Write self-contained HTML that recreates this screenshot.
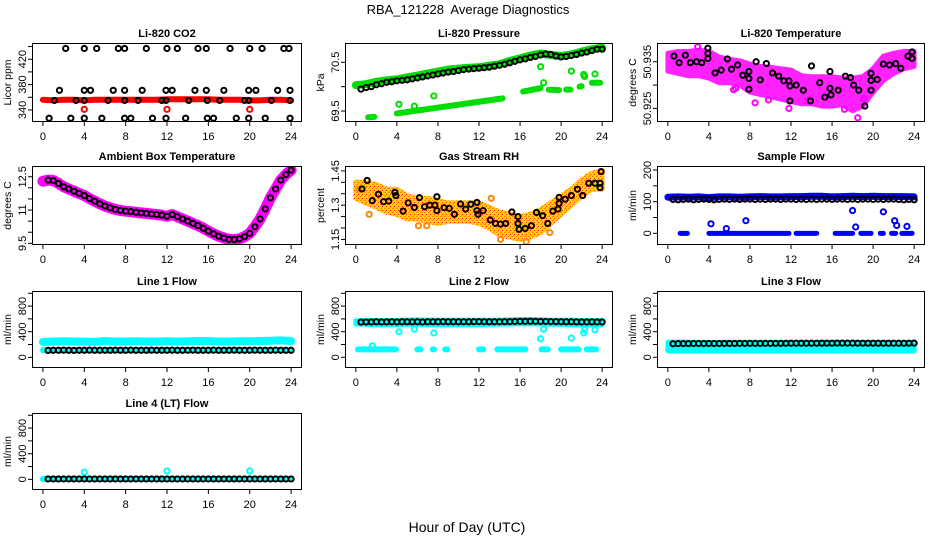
<!DOCTYPE html>
<html><head><meta charset="utf-8"><title>RBA_121228 Average Diagnostics</title>
<style>
html,body{margin:0;padding:0;background:#fff;}
svg{display:block;font-family:"Liberation Sans",Arial,sans-serif;}
</style></head>
<body>
<svg id="chart" width="936" height="540" viewBox="0 0 936 540" xmlns="http://www.w3.org/2000/svg">
<defs>
<pattern id="rhPat" width="4" height="4" patternUnits="userSpaceOnUse">
<rect width="4" height="4" fill="#ffd000"/><rect x="0" y="0" width="2" height="1" fill="#ff8c00"/><rect x="2" y="2" width="1" height="1" fill="#ff2000"/><rect x="1" y="3" width="1" height="1" fill="#ffaa00"/>
</pattern>
</defs>
<text x="468" y="14" font-size="13" text-anchor="middle" xml:space="preserve" style="white-space:pre">RBA_121228  Average Diagnostics</text>
<text x="467" y="532" font-size="14" text-anchor="middle">Hour of Day (UTC)</text>
</svg>
<script>
// ---------- data ----------
const hours = [0,1,2,3,4,5,6,7,8,9,10,11,12,13,14,15,16,17,18,19,20,21,22,23,24];
const halfHours = [];
for (let i = 1; i <= 48; i++) halfHours.push(i * 0.5);

// Li-820 CO2
const co2Red = [356,355,356,356,355,356,356,356,356,356,356,356,357,357,357,357,357,356,356,356,355,355,356,356,355];
const co2RedOutX = [4,12,20];
const co2RedOutY = [341,341,341];
const co2BlackX = [2.2,4,5.2,7.3,7.9,10,12,13,15,15.8,18.1,20,21.2,23.3,23.8,
  1.6,4,4.6,6.8,7.9,9.6,11.9,12.5,14.7,15.8,17.5,19.9,20.6,22.7,23.9,
  1.1,3.2,4,6.3,7.9,9.2,11.5,11.9,14.1,15.9,17.1,19.5,19.9,22.1,23.9,
  0.6,2.7,4,5.7,7.9,8.5,10.6,11.9,13.8,15.9,16.5,18.7,19.9,21.5,23.9];
const co2BlackY = [437,437,437,437,437,437,437,437,437,437,437,437,437,437,437,
  371,371,371,371,371,371,371,371,371,371,371,371,371,371,371,
  355,355,355,355,355,355,355,355,355,355,355,355,355,355,355,
  327,327,327,327,327,327,327,327,327,327,327,327,327,327,327];

// Li-820 Pressure
const presGreen = [70.03,70.05,70.10,70.13,70.15,70.19,70.23,70.27,70.31,70.35,70.37,70.39,70.40,70.43,70.46,70.53,70.58,70.64,70.68,70.65,70.63,70.66,70.72,70.77,70.80];
const presBlack = [69.95,69.98,70.00,70.04,70.06,70.09,70.10,70.12,70.13,70.14,70.16,70.18,70.20,70.22,70.24,70.26,70.28,70.30,70.31,70.33,70.35,70.36,70.37,70.38,70.39,70.40,70.42,70.44,70.46,70.49,70.52,70.55,70.57,70.60,70.62,70.65,70.67,70.66,70.63,70.61,70.62,70.64,70.66,70.69,70.71,70.74,70.77,70.77];
const presLowStart = [1.2,4.0,16.3,18.8,20.5,21.8,23.0];
const presLowEnd = [1.8,14.3,18.0,19.8,20.9,22.0,23.8];
const presLowV1 = [69.37,69.45,69.90,69.94,69.94,70.00,70.08];
const presLowV2 = [69.38,69.76,69.97,69.93,69.94,70.01,70.08];
const presOutX = [4.2,5.7,7.6,18,18.3,21,22.2,22.3,23.3];
const presOutY = [69.64,69.60,69.81,70.41,70.08,70.32,70.25,70.21,70.26];

// Li-820 Temperature
const tempUpper = [50.9368,50.9372,50.9372,50.9375,50.9372,50.9360,50.9355,50.9352,50.9345,50.9340,50.9338,50.9335,50.9332,50.9320,50.9318,50.9318,50.9318,50.9315,50.9315,50.9318,50.9335,50.9362,50.9368,50.9372,50.9372];
const tempLower = [50.9330,50.9325,50.9320,50.9320,50.9315,50.9305,50.9305,50.9300,50.9285,50.9280,50.9275,50.9270,50.9265,50.9260,50.9260,50.9255,50.9255,50.9258,50.9245,50.9255,50.9285,50.9310,50.9325,50.9335,50.9340];
const tempMagOutX = [2.9,6.4,6.6,8.5,9.8,11.8,13.7,17.2,18.5,19.1];
const tempMagOutY = [50.9382,50.9290,50.9293,50.9262,50.9268,50.9250,50.9268,50.9248,50.9230,50.9270];
const tempBlackX = [0.6,1.1,1.7,2.2,2.8,3.3,3.9,3.9,3.9,4.6,5.2,5.8,6.2,6.8,7.3,7.9,7.9,7.9,8.6,9.6,9.0,10.2,10.8,11.3,11.8,11.9,11.9,12.5,13.2,13.9,14.0,14.8,15.3,15.8,15.8,15.9,16.6,17.3,17.8,18.1,18.6,19.2,19.8,19.8,19.8,20.4,21.0,21.6,22.2,22.7,23.4,23.8,23.8];
const tempBlackY = [50.9362,50.9348,50.9364,50.9348,50.9350,50.9348,50.9379,50.9368,50.9357,50.9326,50.9332,50.9356,50.9334,50.9343,50.9321,50.9329,50.9314,50.9291,50.9350,50.9346,50.9311,50.9326,50.9319,50.9309,50.9309,50.9298,50.9266,50.9300,50.9289,50.9266,50.9341,50.9305,50.9274,50.9329,50.9293,50.9279,50.9289,50.9319,50.9316,50.9300,50.9289,50.9255,50.9310,50.9325,50.9289,50.9312,50.9345,50.9343,50.9346,50.9336,50.9362,50.9371,50.9357];

// Ambient Box Temperature
const ambStart = 12.3;
const ambBlack = [12.35,12.33,12.2,12.05,11.95,11.85,11.75,11.65,11.52,11.4,11.28,11.18,11.1,11.03,10.98,10.95,10.93,10.9,10.87,10.85,10.82,10.8,10.77,10.72,10.8,10.7,10.6,10.5,10.4,10.3,10.18,10.05,9.93,9.82,9.74,9.68,9.67,9.7,9.8,9.95,10.25,10.6,11.05,11.55,11.95,12.35,12.6,12.8];

// Gas Stream RH
const rhUpper = [1.40,1.40,1.39,1.37,1.37,1.34,1.33,1.33,1.32,1.31,1.31,1.31,1.31,1.29,1.27,1.26,1.25,1.26,1.28,1.31,1.34,1.37,1.41,1.44,1.45];
const rhLower = [1.33,1.31,1.29,1.27,1.26,1.24,1.24,1.23,1.22,1.23,1.23,1.23,1.22,1.20,1.17,1.16,1.15,1.16,1.18,1.22,1.26,1.30,1.34,1.37,1.37];
const rhOutX = [1.3,6.1,6.9,14.1,16.6,18.9,13.2,0.3];
const rhOutY = [1.26,1.21,1.21,1.15,1.14,1.18,1.33,1.37];
const rhBlackX = [0.6,1.1,1.6,2.2,2.7,3.2,3.8,3.9,4.6,5.1,5.7,6.2,6.7,7.2,7.7,7.9,7.9,8.6,9.1,9.6,10.2,10.7,11.2,11.8,11.8,11.9,12.4,13.1,13.6,14.1,14.6,15.2,15.8,15.8,15.9,16.5,17.1,17.6,18.2,18.7,19.2,19.7,19.8,19.8,20.4,21.0,21.6,22.1,22.7,23.3,23.8,23.8,23.9];
const rhBlackY = [1.371,1.408,1.32,1.348,1.315,1.318,1.356,1.342,1.274,1.31,1.29,1.333,1.293,1.30,1.30,1.276,1.337,1.289,1.286,1.26,1.305,1.283,1.304,1.312,1.276,1.26,1.276,1.235,1.22,1.217,1.22,1.27,1.25,1.22,1.194,1.198,1.21,1.268,1.254,1.22,1.274,1.283,1.308,1.334,1.326,1.342,1.37,1.342,1.396,1.396,1.396,1.377,1.447];

// Sample Flow
const sfBlue = [114,115,114,115,113,115,115,114,115,116,115,115,116,116,117,117,115,116,117,116,117,116,116,116,115];
const sfBlack = [107,106,107,108,106,107,108,107,106,107,108,107,108,107,108,108,107,108,107,108,108,107,108,108,107,108,107,108,107,108,108,107,108,108,107,108,107,108,108,107,108,107,108,108,107,106,107,106];
const sfZeroStart = [1.2,4.0,12.5,16.3,18.8,20.7,21.8,22.8];
const sfZeroEnd = [1.9,11.8,14.5,18.0,19.8,21.0,22.2,23.8];
const sfOutX = [4.2,5.7,7.6,18,18.3,21,22.1,22.3,23.3];
const sfOutY = [30,15,40,72,20,68,40,25,22];

// Line 1 Flow
const l1Cyan = [240,245,250,245,245,240,255,245,245,250,245,245,250,245,250,255,255,245,245,250,250,255,260,265,255];
const l1CyanLow = [115,112,112,112,112,112,112,112,112,112,112,112,112,112,112,112,112,112,112,112,112,112,112,112,112];
const l1Black = [108,110,110,112,110,108,110,110,112,110,110,110,110,112,110,110,112,110,110,110,112,110,110,110,112,110,110,110,112,110,110,110,112,110,110,110,112,110,110,110,112,110,110,110,112,110,110,110];

// Line 2 Flow
const l2CyanUpper = [570,575,575,575,575,580,585,580,580,580,580,580,580,580,580,585,590,590,585,580,580,580,575,575,575];
const l2CyanLower = [520,515,510,510,510,515,515,510,510,510,510,510,510,515,515,520,525,525,520,515,515,510,505,505,510];
const l2Black = [550,552,552,555,552,553,555,552,555,555,553,555,552,555,555,555,557,555,555,555,556,555,557,558,556,555,555,556,557,558,560,562,562,563,562,560,560,558,557,556,555,555,553,552,552,553,552,552];
const l2LowStart = [0.2,6.0,7.5,8.7,12.0,13.8,18.1,20.0,22.5];
const l2LowEnd = [3.9,6.3,7.6,8.9,12.4,16.5,18.7,21.7,23.4];
const l2LowVal = [125,125,125,125,125,125,125,125,125];
const l2OutX = [1.6,4.2,5.7,7.6,18,18.3,21,22.2,22.3,23.3];
const l2OutY = [180,400,440,380,290,440,300,380,430,430];

// Line 3 Flow
const l3CyanUpper = [235,235,235,232,232,232,235,232,232,232,232,232,235,235,235,235,235,232,232,232,232,232,232,232,235];
const l3CyanLower = [100,100,100,100,100,100,100,100,100,100,100,100,100,100,100,100,100,100,100,100,100,100,100,100,100];
const l3Black = [212,214,215,215,216,216,216,217,216,216,217,217,217,218,218,218,218,218,218,218,219,219,219,220,220,220,220,220,220,221,221,221,222,222,222,222,221,221,221,221,220,220,220,220,220,220,221,222];

// Line 4 (LT) Flow
const l4Cyan = [5,5,5,5,5,5,5,5,5,5,5,5,5,5,5,5,5,5,5,5,5,5,5,5,5];
const l4Black = [6,6,6,6,6,6,6,6,6,6,6,6,6,6,6,6,6,6,6,6,6,6,6,6,6,6,6,6,6,6,6,6,6,6,6,6,6,6,6,6,6,6,6,6,6,6,6,6];
const l4OutX = [4,12,20];
const l4OutY = [110,130,130];

// ---------- drawing helpers ----------
const NS = "http://www.w3.org/2000/svg";
const svg = document.getElementById('chart');
const colsPx = [[33,301],[346,612],[658,924]];
const rowsPx = [[44,121],[167,244],[292,367],[414,489]];
const xTicks = [0,4,8,12,16,20,24];
let clipN = 0;

function mk(tag, attrs, parent) {
  const e = document.createElementNS(NS, tag);
  for (const k in attrs) e.setAttribute(k, attrs[k]);
  parent.appendChild(e);
  return e;
}

function makePanel(key, col, row, yDom, yTicks, yLabels, title, ylab) {
  const [x0, x1] = colsPx[col], [y0, y1] = rowsPx[row];
  const sx = v => x0 + (v + 0.96) / 25.92 * (x1 - x0);
  const sy = v => y1 - (v - yDom[0]) / (yDom[1] - yDom[0]) * (y1 - y0);
  const g = mk('g', {}, svg);
  
  
  const t = mk('text', {x: (x0 + x1) / 2, y: y0 - 7, 'font-size': 11, 'font-weight': 'bold', 'text-anchor': 'middle'}, g);
  t.textContent = title;
  
  
  const xa = mk('g', {stroke: '#000', 'stroke-width': 1}, g);
  
  
  mk('line', {x1: sx(0), x2: sx(24), y1: y1 + 0.5, y2: y1 + 0.5}, xa);
  xTicks.forEach(v => {
    mk('line', {x1: sx(v), x2: sx(v), y1: y1, y2: y1 + 5}, xa);
    const l = mk('text', {x: sx(v), y: y1 + 19, 'font-size': 11, 'text-anchor': 'middle', stroke: 'none'}, xa);
    l.textContent = v;
  });
  const ya = mk('g', {stroke: '#000', 'stroke-width': 1}, g);
  
  
  mk('line', {x1: x0 - 0.5, x2: x0 - 0.5, y1: sy(yTicks[0]), y2: sy(yTicks[yTicks.length - 1])}, ya);
  yTicks.forEach(v => {
    mk('line', {x1: x0 - 5, x2: x0, y1: sy(v), y2: sy(v)}, ya);
  });
  yLabels.forEach(v => {
    const yy = sy(v), xx = x0 - 7;
    const l = mk('text', {x: xx, y: yy, 'font-size': 11, 'text-anchor': 'middle', stroke: 'none', transform: `rotate(-90 ${xx} ${yy})`}, ya);
    l.textContent = v;
  });
  const yl = mk('text', {x: x0 - 22, y: (y0 + y1) / 2, 'font-size': 10.5, 'text-anchor': 'middle', transform: `rotate(-90 ${x0 - 22} ${(y0 + y1) / 2})`}, g);
  yl.textContent = ylab;
  
  
  clipN++;
  const cp = mk('clipPath', {id: 'clip' + clipN}, svg);
  mk('rect', {x: x0, y: y0, width: x1 - x0, height: y1 - y0}, cp);
  const plot = mk('g', {'clip-path': `url(#clip${clipN})`}, g);
  
  
  const box = mk('rect', {x: x0 - 0.5, y: y0 - 0.5, width: x1 - x0 + 1, height: y1 - y0 + 1, fill: 'none', stroke: '#000', 'stroke-width': 1}, g);
  
  
  return {plot, sx, sy};
}

function dots(p, xs, ys, color, name, r, sw) {
  const g = mk('g', {fill: 'none', stroke: color, 'stroke-width': sw || 2}, p.plot);
  
  
  xs.forEach((x, i) => {
    const c = mk('circle', {cx: p.sx(x), cy: p.sy(ys[i]), r: r || 2.6}, g);
    
    
  });
  return g;
}

function thick(p, xs, ys, color, width, name) {
  const pts = xs.map((x, i) => p.sx(x).toFixed(1) + ',' + p.sy(ys[i]).toFixed(1)).join(' ');
  const l = mk('polyline', {points: pts, fill: 'none', stroke: color, 'stroke-width': width, 'stroke-linecap': 'round', 'stroke-linejoin': 'round'}, p.plot);
  
  
  return l;
}

function band(p, xs, up, lo, fill, name) {
  const a = xs.map((x, i) => p.sx(x).toFixed(1) + ',' + p.sy(up[i]).toFixed(1));
  const b = xs.map((x, i) => p.sx(x).toFixed(1) + ',' + p.sy(lo[i]).toFixed(1)).reverse();
  const pg = mk('polygon', {points: a.concat(b).join(' '), fill: fill, stroke: fill, 'stroke-width': 5, 'stroke-linejoin': 'round'}, p.plot);
  
  
  return pg;
}

function segs(p, st, en, v1, v2, color, width, name) {
  st.forEach((s, i) => {
    const l = mk('line', {x1: p.sx(s), x2: p.sx(en[i]), y1: p.sy(v1[i]), y2: p.sy(v2[i]), stroke: color, 'stroke-width': width, 'stroke-linecap': 'round'}, p.plot);
    
    
  });
}

// ---------- panels ----------
let p = makePanel('co2', 0, 0, [322.6, 444], [340,360,380,400,420,440], [340,380,420], 'Li-820 CO2', 'Licor ppm');
thick(p, hours, co2Red, '#ff0000', 6, 'co2-red-series');
dots(p, co2RedOutX, co2RedOutY, '#ff0000', 'co2-red-outliers');
dots(p, co2BlackX, co2BlackY, '#000', 'co2-black-series');

p = makePanel('pressure', 1, 0, [69.295, 70.876], [69.5,70,70.5], [69.5,70.5], 'Li-820 Pressure', 'kPa');
thick(p, hours, presGreen, '#00dd00', 8, 'pressure-green-series');
segs(p, presLowStart, presLowEnd, presLowV1, presLowV2, '#00dd00', 6, 'pressure-green-low-segment');
dots(p, presOutX, presOutY, '#00dd00', 'pressure-green-outliers');
dots(p, halfHours, presBlack, '#000', 'pressure-black-series');

p = makePanel('li820-temp', 2, 0, [50.9223, 50.9388], [50.925,50.930,50.935], [50.925,50.935], 'Li-820 Temperature', 'degrees C');
band(p, hours, tempUpper, tempLower, '#ff22ff', 'temp-magenta-cloud');
dots(p, tempMagOutX, tempMagOutY, '#ff00ff', 'temp-magenta-outliers');
dots(p, tempBlackX, tempBlackY, '#000', 'temp-black-series');

p = makePanel('ambient', 0, 1, [9.47, 12.94], [9.5,10,10.5,11,11.5,12,12.5], [9.5,11.0,12.5], 'Ambient Box Temperature', 'degrees C');
thick(p, [0].concat(halfHours), [ambStart].concat(ambBlack), '#ff00ff', 11, 'ambient-magenta-series');
dots(p, halfHours, ambBlack, '#000', 'ambient-black-series');

p = makePanel('rh', 1, 1, [1.13, 1.467], [1.15,1.20,1.25,1.30,1.35,1.40,1.45], [1.15,1.30,1.45], 'Gas Stream RH', 'percent');
band(p, hours, rhUpper, rhLower, 'url(#rhPat)', 'rh-orange-cloud');
dots(p, rhOutX, rhOutY, '#ff8800', 'rh-orange-outliers');
dots(p, rhBlackX, rhBlackY, '#000', 'rh-black-series');

p = makePanel('sample-flow', 2, 1, [-33.7, 209.5], [0,50,100,150,200], [0,100,200], 'Sample Flow', 'ml/min');
thick(p, hours, sfBlue, '#0000ff', 7, 'sample-flow-blue-series');
segs(p, sfZeroStart, sfZeroEnd, sfZeroStart.map(() => 0), sfZeroEnd.map(() => 0), '#0000ff', 5, 'sample-flow-zero-segment');
dots(p, sfOutX, sfOutY, '#0000ff', 'sample-flow-blue-outliers');
dots(p, halfHours, sfBlack, '#000', 'sample-flow-black-series');

const flowTicks = [0,200,400,600,800,1000], flowLabels = [0,400,800], flowDom = [-151, 1020];
p = makePanel('line1', 0, 2, flowDom, flowTicks, flowLabels, 'Line 1 Flow', 'ml/min');
thick(p, hours, l1Cyan, '#00ffff', 8, 'line1-cyan-series');
thick(p, hours, l1CyanLow, '#00ffff', 6, 'line1-cyan-low-series');
dots(p, halfHours, l1Black, '#000', 'line1-black-series');

p = makePanel('line2', 1, 2, flowDom, flowTicks, flowLabels, 'Line 2 Flow', 'ml/min');
band(p, hours, l2CyanUpper, l2CyanLower, '#00ffff', 'line2-cyan-band');
segs(p, l2LowStart, l2LowEnd, l2LowVal, l2LowVal, '#00ffff', 6, 'line2-cyan-low-segment');
dots(p, l2OutX, l2OutY, '#00ffff', 'line2-cyan-outliers');
dots(p, halfHours, l2Black, '#000', 'line2-black-series');

p = makePanel('line3', 2, 2, flowDom, flowTicks, flowLabels, 'Line 3 Flow', 'ml/min');
band(p, hours, l3CyanUpper, l3CyanLower, '#00ffff', 'line3-cyan-band');
dots(p, halfHours, l3Black, '#000', 'line3-black-series');

p = makePanel('line4', 0, 3, flowDom, flowTicks, flowLabels, 'Line 4 (LT) Flow', 'ml/min');
thick(p, hours, l4Cyan, '#00ffff', 6, 'line4-cyan-series');
dots(p, l4OutX, l4OutY, '#00ffff', 'line4-cyan-outliers');
dots(p, halfHours, l4Black, '#000', 'line4-black-series');
</script>
</body></html>
